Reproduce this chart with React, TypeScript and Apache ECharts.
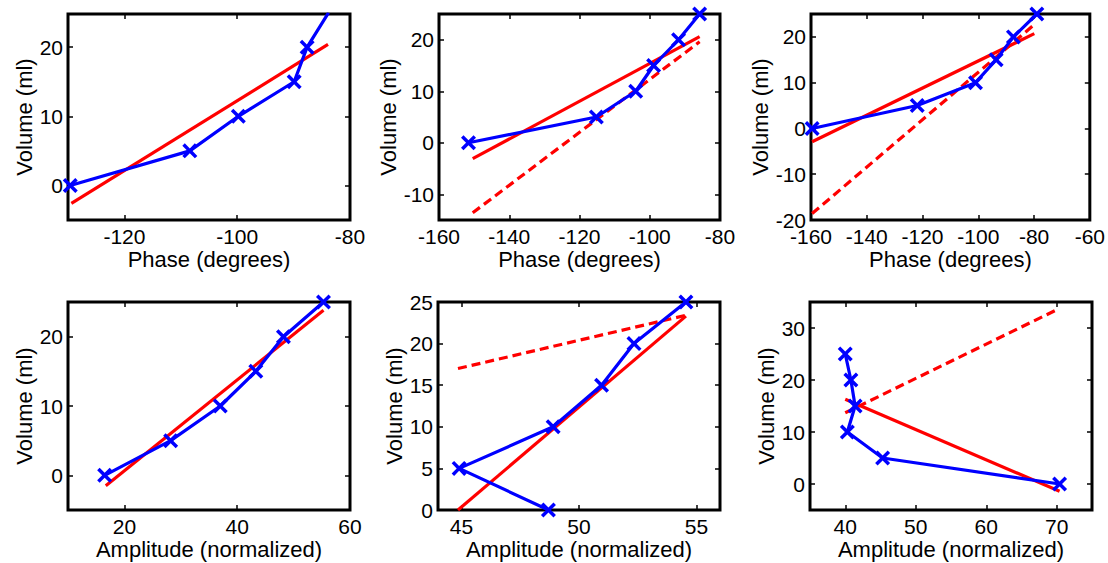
import React, { useEffect, useRef } from "react";
import * as echarts from "echarts";

// ---- data ----
const volume = [0, 5, 10, 15, 20, 25];

const phaseA = [-129.6, -108.4, -99.8, -89.9, -87.6, -83.8];
const phaseB = [-151.6, -115.2, -104.0, -98.9, -91.8, -85.8];
const phaseC = [-159.6, -121.9, -101.0, -93.6, -87.4, -79.0];
const ampA = [16.5, 28.2, 37.0, 43.3, 48.2, 55.3];
const ampB = [48.7, 44.9, 48.9, 50.96, 52.34, 54.55];
const ampC = [70.4, 45.3, 40.3, 41.4, 40.8, 40.0];

// linear fits: [x0, x1], [y0, y1]
const fitA_x = [-129.4, -83.9];
const fitA_y = [-2.6, 20.4];
const fitB_x = [-150.4, -85.8];
const fitB_y = [-3.1, 20.6];
const fitB_dash_x = [-150.4, -85.8];
const fitB_dash_y = [-13.6, 19.6];
const fitC_x = [-159.6, -79.9];
const fitC_y = [-2.9, 20.7];
const fitC_dash_x = [-159.6, -79.5];
const fitC_dash_y = [-18.6, 22.9];
const fitD_x = [16.7, 55.3];
const fitD_y = [-1.5, 23.8];
const fitE_x = [44.85, 54.55];
const fitE_y = [0.0, 23.3];
const fitE_dash_x = [44.85, 54.55];
const fitE_dash_y = [17.0, 23.4];
const fitF_x = [40.0, 70.4];
const fitF_y = [16.3, -1.4];
const fitF_dash_x = [40.0, 70.3];
const fitF_dash_y = [13.7, 33.7];

// axis ranges and ticks
const xRangeA = [-130, -80];
const xTicksA = [-120, -100, -80];
const xRangeB = [-160, -80];
const xTicksB = [-160, -140, -120, -100, -80];
const xRangeC = [-160, -60];
const xTicksC = [-160, -140, -120, -100, -80, -60];
const xRangeD = [10, 60];
const xTicksD = [20, 40, 60];
const xRangeE = [44, 56];
const xTicksE = [45, 50, 55];
const xRangeF = [35, 75];
const xTicksF = [40, 50, 60, 70];

const yRangeA = [-5, 24.8];
const yTicksA = [0, 10, 20];
const yRangeB = [-15, 25];
const yTicksB = [-10, 0, 10, 20];
const yRangeC = [-20, 25];
const yTicksC = [-20, -10, 0, 10, 20];
const yRangeD = [-5, 25];
const yTicksD = [0, 10, 20];
const yRangeE = [0, 25];
const yTicksE = [0, 5, 10, 15, 20, 25];
const yRangeF = [-5, 35];
const yTicksF = [0, 10, 20, 30];

const phaseLabel = "Phase (degrees)";
const ampLabel = "Amplitude (normalized)";
const volLabel = "Volume (ml)";

type Panel = {
  x: number[];
  fitX: number[];
  fitY: number[];
  dashX: number[] | null;
  dashY: number[] | null;
  xRange: number[];
  xTicks: number[];
  yRange: number[];
  yTicks: number[];
  xName: string;
};

const panels: Panel[] = [
  { x: phaseA, fitX: fitA_x, fitY: fitA_y, dashX: null, dashY: null, xRange: xRangeA, xTicks: xTicksA, yRange: yRangeA, yTicks: yTicksA, xName: phaseLabel },
  { x: phaseB, fitX: fitB_x, fitY: fitB_y, dashX: fitB_dash_x, dashY: fitB_dash_y, xRange: xRangeB, xTicks: xTicksB, yRange: yRangeB, yTicks: yTicksB, xName: phaseLabel },
  { x: phaseC, fitX: fitC_x, fitY: fitC_y, dashX: fitC_dash_x, dashY: fitC_dash_y, xRange: xRangeC, xTicks: xTicksC, yRange: yRangeC, yTicks: yTicksC, xName: phaseLabel },
  { x: ampA, fitX: fitD_x, fitY: fitD_y, dashX: null, dashY: null, xRange: xRangeD, xTicks: xTicksD, yRange: yRangeD, yTicks: yTicksD, xName: ampLabel },
  { x: ampB, fitX: fitE_x, fitY: fitE_y, dashX: fitE_dash_x, dashY: fitE_dash_y, xRange: xRangeE, xTicks: xTicksE, yRange: yRangeE, yTicks: yTicksE, xName: ampLabel },
  { x: ampC, fitX: fitF_x, fitY: fitF_y, dashX: fitF_dash_x, dashY: fitF_dash_y, xRange: xRangeF, xTicks: xTicksF, yRange: yRangeF, yTicks: yTicksF, xName: ampLabel },
];

// ---- layout ----
const GRIDS = [
  { left: 68, top: 14, width: 282, height: 206 },
  { left: 439, top: 14, width: 281, height: 206 },
  { left: 811, top: 14, width: 281, height: 206 },
  { left: 68, top: 302, width: 282, height: 208 },
  { left: 438, top: 302, width: 282, height: 208 },
  { left: 810, top: 302, width: 282, height: 208 },
];
const Y_NAME_GAP = [32, 38, 36, 32, 32, 33];

const FONT = "'Liberation Sans', Arial, Helvetica, sans-serif";
const BLUE = "#0000ff";
const RED = "#ff0000";
const CROSS =
  "path://M0,2.3 L2.3,0 L7,4.7 L11.7,0 L14,2.3 L9.3,7 L14,11.7 L11.7,14 L7,9.3 L2.3,14 L0,11.7 L4.7,7 Z";

function buildOption() {
  const grid: any[] = [];
  const xAxis: any[] = [];
  const yAxis: any[] = [];
  const series: any[] = [];

  panels.forEach((p, i) => {
    grid.push({
      ...GRIDS[i],
      show: true,
      borderColor: "#000",
      borderWidth: 3,
      backgroundColor: "#fff",
      containLabel: false,
    });
    const tickStyle = { show: true, inside: true, length: 5, lineStyle: { color: "#000", width: 1.5 } };
    const noLine = { show: false, onZero: false };
    xAxis.push({
      type: "value",
      gridIndex: i,
      position: "bottom",
      min: p.xRange[0],
      max: p.xRange[1],
      axisLine: noLine,
      axisTick: { ...tickStyle, customValues: p.xTicks },
      axisLabel: {
        show: true,
        customValues: p.xTicks,
        color: "#000",
        fontSize: 21,
        fontFamily: FONT,
        margin: 6,
      },
      splitLine: { show: false },
      name: p.xName,
      nameLocation: "middle",
      nameGap: 28,
      nameTextStyle: { color: "#000", fontSize: 22, fontFamily: FONT },
    });
    xAxis.push({
      type: "value",
      gridIndex: i,
      position: "top",
      min: p.xRange[0],
      max: p.xRange[1],
      axisLine: noLine,
      axisTick: { ...tickStyle, customValues: p.xTicks },
      axisLabel: { show: false },
      splitLine: { show: false },
    });
    yAxis.push({
      type: "value",
      gridIndex: i,
      position: "left",
      min: p.yRange[0],
      max: p.yRange[1],
      axisLine: noLine,
      axisTick: { ...tickStyle, customValues: p.yTicks },
      axisLabel: {
        show: true,
        customValues: p.yTicks,
        color: "#000",
        fontSize: 21,
        fontFamily: FONT,
        margin: 5,
      },
      splitLine: { show: false },
      name: volLabel,
      nameLocation: "middle",
      nameGap: Y_NAME_GAP[i],
      nameTextStyle: { color: "#000", fontSize: 22, fontFamily: FONT },
    });
    yAxis.push({
      type: "value",
      gridIndex: i,
      position: "right",
      min: p.yRange[0],
      max: p.yRange[1],
      axisLine: noLine,
      axisTick: { ...tickStyle, customValues: p.yTicks },
      axisLabel: { show: false },
      splitLine: { show: false },
    });

    const xi = 2 * i;
    const yi = 2 * i;
    series.push({
      type: "line",
      xAxisIndex: xi,
      yAxisIndex: yi,
      data: p.fitX.map((x, k) => [x, p.fitY[k]]),
      showSymbol: false,
      lineStyle: { color: RED, width: 3.2 },
      z: 2,
      clip: true,
    });
    if (p.dashX && p.dashY) {
      const dy = p.dashY;
      series.push({
        type: "line",
        xAxisIndex: xi,
        yAxisIndex: yi,
        data: p.dashX.map((x, k) => [x, dy[k]]),
        showSymbol: false,
        lineStyle: { color: RED, width: 3.2, type: [9, 5] },
        z: 2,
        clip: true,
      });
    }
    series.push({
      type: "line",
      xAxisIndex: xi,
      yAxisIndex: yi,
      data: p.x.map((x, k) => [x, volume[k]]),
      symbol: CROSS,
      symbolSize: 15,
      showSymbol: true,
      itemStyle: { color: BLUE },
      lineStyle: { color: BLUE, width: 3.2 },
      z: 3,
      clip: true,
    });
  });

  return {
    animation: false,
    backgroundColor: "#fff",
    grid,
    xAxis,
    yAxis,
    series,
  };
}

export default function App() {
  const ref = useRef<HTMLDivElement>(null);
  useEffect(() => {
    if (!ref.current) return;
    const chart = echarts.init(ref.current, null, { renderer: "svg" });
    chart.setOption(buildOption());
    return () => chart.dispose();
  }, []);
  return (
    <div
      ref={ref}
      style={{ position: "fixed", left: 0, top: 0, width: 1108, height: 563, background: "#fff" }}
    />
  );
}
